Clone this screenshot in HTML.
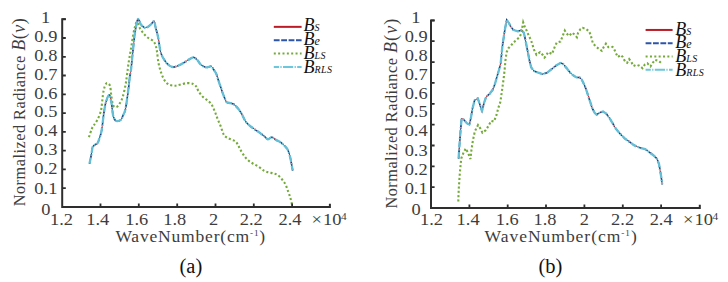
<!DOCTYPE html>
<html><head><meta charset="utf-8"><title>Figure</title>
<style>
html,body{margin:0;padding:0;background:#fff;}
body{width:728px;height:282px;overflow:hidden;}
svg{display:block;}
text{font-family:"Liberation Serif",serif;}
.tk text, text.tk{font-size:17.2px;fill:#3d3d3d;}
.tk .ex{font-size:17.3px;}
.tk .xl{font-size:16.4px;letter-spacing:0.75px;}
.tk .xr{letter-spacing:0.9px;}
.tk .yl{font-size:16.3px;letter-spacing:0.5px;}
.tk .bv{font-size:18px;letter-spacing:0.5px;}
.tk .yr{letter-spacing:0.5px;}
.tk .yr .bv{letter-spacing:1.1px;}
.lg{font-size:18px;font-style:italic;fill:#111;}
.cap{font-size:20.5px;fill:#111;}
</style></head>
<body>
<svg width="728" height="282" viewBox="0 0 728 282">
<rect width="728" height="282" fill="#fff"/>
<path d="M89.5,163.8 C89.9,161.9 91.2,155.4 91.7,152.6 C92.2,149.8 92.1,148.5 92.6,147.2 C93.1,145.9 94.1,145.5 94.9,144.8 C95.8,144.1 96.9,144.4 97.7,143.0 C98.5,141.6 99.3,138.7 100.0,136.5 C100.7,134.3 101.0,133.9 101.7,130.0 C102.4,126.1 103.2,117.7 103.9,113.0 C104.6,108.3 105.1,105.0 106.0,102.0 C106.9,99.0 108.4,94.8 109.3,95.0 C110.2,95.2 110.9,99.7 111.5,103.0 C112.1,106.3 112.4,112.2 113.0,115.0 C113.6,117.8 114.3,119.0 115.0,120.0 C115.7,121.0 116.3,121.2 117.3,121.2 C118.3,121.2 120.0,120.8 120.9,119.8 C121.9,118.8 122.2,117.3 123.0,115.5 C123.8,113.7 124.6,113.2 125.5,109.0 C126.4,104.8 127.6,95.3 128.3,90.0 C129.0,84.7 129.3,80.7 129.8,77.0 C130.3,73.3 130.7,72.2 131.2,68.0 C131.7,63.8 132.2,57.8 132.8,52.0 C133.4,46.2 134.1,38.8 134.9,33.3 C135.7,27.8 136.9,20.9 137.8,19.3 C138.8,17.8 139.7,22.7 140.6,24.0 C141.5,25.3 142.6,26.4 143.5,27.0 C144.4,27.6 145.1,28.0 146.3,27.6 C147.5,27.2 149.2,25.9 150.5,24.8 C151.8,23.7 153.3,20.9 154.1,21.2 C154.9,21.5 154.8,24.1 155.5,26.9 C156.2,29.7 157.5,34.2 158.3,38.2 C159.1,42.2 159.5,47.4 160.3,50.6 C161.1,53.9 161.8,55.5 163.0,57.7 C164.2,59.9 165.8,62.4 167.4,63.9 C169.0,65.5 170.9,66.7 172.7,67.0 C174.5,67.3 176.2,66.4 178.0,65.7 C179.8,65.0 181.5,64.1 183.4,63.0 C185.3,61.9 187.8,60.0 189.6,59.1 C191.4,58.2 192.7,57.2 194.0,57.4 C195.3,57.6 196.4,59.2 197.6,60.4 C198.8,61.6 199.6,63.6 201.1,64.8 C202.6,66.0 204.8,67.2 206.5,67.4 C208.2,67.7 209.8,66.0 211.0,66.3 C212.2,66.6 212.7,68.2 213.6,69.5 C214.5,70.8 215.4,71.8 216.3,73.9 C217.2,76.0 218.0,79.2 218.9,81.9 C219.8,84.6 220.8,87.5 221.6,89.9 C222.4,92.3 223.1,94.2 223.9,96.2 C224.7,98.2 225.7,101.0 226.6,102.1 C227.5,103.2 228.1,102.4 229.3,102.8 C230.5,103.2 232.2,103.2 233.7,104.2 C235.2,105.2 236.8,107.0 238.1,108.6 C239.4,110.2 240.5,111.8 241.7,113.9 C242.9,116.0 244.0,119.0 245.3,121.0 C246.6,123.0 248.0,124.2 249.6,125.6 C251.2,127.0 253.1,128.2 254.9,129.5 C256.7,130.8 258.6,132.0 260.2,133.1 C261.8,134.2 263.2,135.3 264.5,136.3 C265.8,137.3 266.5,139.1 267.7,139.3 C268.9,139.5 270.5,137.2 271.9,137.3 C273.3,137.4 274.8,139.3 276.2,140.1 C277.6,140.9 279.0,141.2 280.4,142.2 C281.8,143.2 283.4,144.6 284.7,145.9 C285.9,147.2 287.0,148.3 287.9,150.1 C288.8,151.9 289.4,154.2 290.0,156.5 C290.6,158.8 291.1,161.6 291.5,163.9 C291.9,166.2 292.5,169.4 292.7,170.5" stroke="#bc1a24" stroke-width="1.0" fill="none"/>
<path d="M89.5,163.8 C89.9,161.9 91.2,155.4 91.7,152.6 C92.2,149.8 92.1,148.5 92.6,147.2 C93.1,145.9 94.1,145.5 94.9,144.8 C95.8,144.1 96.9,144.4 97.7,143.0 C98.5,141.6 99.3,138.7 100.0,136.5 C100.7,134.3 101.0,133.9 101.7,130.0 C102.4,126.1 103.2,117.7 103.9,113.0 C104.6,108.3 105.1,105.0 106.0,102.0 C106.9,99.0 108.4,94.8 109.3,95.0 C110.2,95.2 110.9,99.7 111.5,103.0 C112.1,106.3 112.4,112.2 113.0,115.0 C113.6,117.8 114.3,119.0 115.0,120.0 C115.7,121.0 116.3,121.2 117.3,121.2 C118.3,121.2 120.0,120.8 120.9,119.8 C121.9,118.8 122.2,117.3 123.0,115.5 C123.8,113.7 124.6,113.2 125.5,109.0 C126.4,104.8 127.6,95.3 128.3,90.0 C129.0,84.7 129.3,80.7 129.8,77.0 C130.3,73.3 130.7,72.2 131.2,68.0 C131.7,63.8 132.2,57.8 132.8,52.0 C133.4,46.2 134.1,38.8 134.9,33.3 C135.7,27.8 136.9,20.9 137.8,19.3 C138.8,17.8 139.7,22.7 140.6,24.0 C141.5,25.3 142.6,26.4 143.5,27.0 C144.4,27.6 145.1,28.0 146.3,27.6 C147.5,27.2 149.2,25.9 150.5,24.8 C151.8,23.7 153.3,20.9 154.1,21.2 C154.9,21.5 154.8,24.1 155.5,26.9 C156.2,29.7 157.5,34.2 158.3,38.2 C159.1,42.2 159.5,47.4 160.3,50.6 C161.1,53.9 161.8,55.5 163.0,57.7 C164.2,59.9 165.8,62.4 167.4,63.9 C169.0,65.5 170.9,66.7 172.7,67.0 C174.5,67.3 176.2,66.4 178.0,65.7 C179.8,65.0 181.5,64.1 183.4,63.0 C185.3,61.9 187.8,60.0 189.6,59.1 C191.4,58.2 192.7,57.2 194.0,57.4 C195.3,57.6 196.4,59.2 197.6,60.4 C198.8,61.6 199.6,63.6 201.1,64.8 C202.6,66.0 204.8,67.2 206.5,67.4 C208.2,67.7 209.8,66.0 211.0,66.3 C212.2,66.6 212.7,68.2 213.6,69.5 C214.5,70.8 215.4,71.8 216.3,73.9 C217.2,76.0 218.0,79.2 218.9,81.9 C219.8,84.6 220.8,87.5 221.6,89.9 C222.4,92.3 223.1,94.2 223.9,96.2 C224.7,98.2 225.7,101.0 226.6,102.1 C227.5,103.2 228.1,102.4 229.3,102.8 C230.5,103.2 232.2,103.2 233.7,104.2 C235.2,105.2 236.8,107.0 238.1,108.6 C239.4,110.2 240.5,111.8 241.7,113.9 C242.9,116.0 244.0,119.0 245.3,121.0 C246.6,123.0 248.0,124.2 249.6,125.6 C251.2,127.0 253.1,128.2 254.9,129.5 C256.7,130.8 258.6,132.0 260.2,133.1 C261.8,134.2 263.2,135.3 264.5,136.3 C265.8,137.3 266.5,139.1 267.7,139.3 C268.9,139.5 270.5,137.2 271.9,137.3 C273.3,137.4 274.8,139.3 276.2,140.1 C277.6,140.9 279.0,141.2 280.4,142.2 C281.8,143.2 283.4,144.6 284.7,145.9 C285.9,147.2 287.0,148.3 287.9,150.1 C288.8,151.9 289.4,154.2 290.0,156.5 C290.6,158.8 291.1,161.6 291.5,163.9 C291.9,166.2 292.5,169.4 292.7,170.5" stroke="#1d3d7a" stroke-width="1.5" fill="none" stroke-dasharray="4 2"/>
<path d="M88.9,137.2 C89.4,135.8 90.9,131.1 91.7,129.1 C92.5,127.1 92.9,126.7 93.8,125.3 C94.7,123.9 95.9,122.6 97.0,120.6 C98.1,118.6 99.5,115.4 100.2,113.2 C101.0,111.0 101.0,111.2 101.5,107.5 C102.0,103.8 102.7,95.3 103.5,91.3 C104.3,87.3 105.2,84.5 106.3,83.5 C107.4,82.5 109.1,83.6 109.9,85.6 C110.7,87.6 110.8,92.2 111.3,95.5 C111.8,98.8 112.3,103.6 113.2,105.5 C114.1,107.4 115.4,107.4 116.5,107.0 C117.6,106.6 118.8,105.0 119.8,103.3 C120.8,101.6 121.8,100.0 122.7,97.0 C123.7,94.0 124.8,88.5 125.5,85.0 C126.2,81.5 126.4,79.0 126.9,75.7 C127.4,72.4 127.7,69.2 128.3,65.0 C128.9,60.8 129.8,55.6 130.7,50.3 C131.6,45.0 132.7,37.5 133.5,33.3 C134.3,29.0 135.0,26.7 135.6,24.8 C136.2,22.9 136.3,21.3 137.0,21.9 C137.7,22.5 138.8,26.4 139.9,28.3 C141.0,30.2 142.1,31.8 143.4,33.3 C144.7,34.8 146.0,36.2 147.7,37.5 C149.4,38.8 152.1,39.8 153.4,41.1 C154.7,42.4 154.9,43.6 155.5,45.3 C156.1,46.9 156.4,48.0 156.9,51.0 C157.4,54.0 157.8,59.4 158.5,63.0 C159.2,66.6 160.1,69.8 161.2,72.8 C162.2,75.8 163.5,78.8 164.8,80.8 C166.1,82.8 167.6,83.9 169.2,84.7 C170.8,85.5 172.7,85.7 174.5,85.7 C176.3,85.7 177.7,85.1 179.8,84.7 C181.9,84.3 184.7,83.2 186.9,83.1 C189.1,83.0 191.5,83.3 193.1,84.0 C194.7,84.7 195.8,85.8 196.7,87.0 C197.6,88.2 197.4,89.5 198.5,91.2 C199.6,92.9 201.3,95.3 203.0,97.0 C204.7,98.7 207.3,100.0 208.9,101.5 C210.5,103.0 211.4,104.2 212.4,106.0 C213.4,107.8 214.2,110.0 215.1,112.2 C216.0,114.4 216.8,117.1 217.7,119.3 C218.6,121.5 219.6,123.5 220.4,125.5 C221.2,127.5 221.8,129.8 222.5,131.5 C223.2,133.2 223.4,134.5 224.3,135.6 C225.2,136.7 226.5,137.3 227.7,138.0 C228.9,138.7 230.4,139.1 231.7,139.7 C233.0,140.3 234.6,140.6 235.7,141.5 C236.8,142.4 237.4,144.0 238.1,145.2 C238.8,146.4 239.2,147.4 240.0,148.9 C240.8,150.4 242.0,152.6 243.2,154.4 C244.4,156.2 245.8,158.2 247.4,159.7 C249.0,161.2 250.9,162.3 252.8,163.5 C254.8,164.7 257.2,165.8 259.1,167.1 C261.0,168.3 262.8,170.1 264.4,171.0 C266.0,171.9 267.3,172.0 268.8,172.4 C270.3,172.8 271.8,172.9 273.3,173.3 C274.8,173.7 276.2,174.0 277.7,175.0 C279.2,176.0 280.8,177.9 282.1,179.5 C283.4,181.1 284.7,182.7 285.7,184.8 C286.7,186.9 287.5,189.7 288.3,191.9 C289.1,194.1 289.8,195.9 290.4,198.0 C291.0,200.1 291.6,202.7 291.9,204.2 C292.2,205.7 292.2,206.5 292.3,207.0" stroke="#74aa3a" stroke-width="2.1" fill="none" stroke-dasharray="2.1 2.2"/>
<path d="M89.5,163.8 C89.9,161.9 91.2,155.4 91.7,152.6 C92.2,149.8 92.1,148.5 92.6,147.2 C93.1,145.9 94.1,145.5 94.9,144.8 C95.8,144.1 96.9,144.4 97.7,143.0 C98.5,141.6 99.3,138.7 100.0,136.5 C100.7,134.3 101.0,133.9 101.7,130.0 C102.4,126.1 103.2,117.7 103.9,113.0 C104.6,108.3 105.1,105.0 106.0,102.0 C106.9,99.0 108.4,94.8 109.3,95.0 C110.2,95.2 110.9,99.7 111.5,103.0 C112.1,106.3 112.4,112.2 113.0,115.0 C113.6,117.8 114.3,119.0 115.0,120.0 C115.7,121.0 116.3,121.2 117.3,121.2 C118.3,121.2 120.0,120.8 120.9,119.8 C121.9,118.8 122.2,117.3 123.0,115.5 C123.8,113.7 124.6,113.2 125.5,109.0 C126.4,104.8 127.6,95.3 128.3,90.0 C129.0,84.7 129.3,80.7 129.8,77.0 C130.3,73.3 130.7,72.2 131.2,68.0 C131.7,63.8 132.2,57.8 132.8,52.0 C133.4,46.2 134.1,38.8 134.9,33.3 C135.7,27.8 136.9,20.9 137.8,19.3 C138.8,17.8 139.7,22.7 140.6,24.0 C141.5,25.3 142.6,26.4 143.5,27.0 C144.4,27.6 145.1,28.0 146.3,27.6 C147.5,27.2 149.2,25.9 150.5,24.8 C151.8,23.7 153.3,20.9 154.1,21.2 C154.9,21.5 154.8,24.1 155.5,26.9 C156.2,29.7 157.5,34.2 158.3,38.2 C159.1,42.2 159.5,47.4 160.3,50.6 C161.1,53.9 161.8,55.5 163.0,57.7 C164.2,59.9 165.8,62.4 167.4,63.9 C169.0,65.5 170.9,66.7 172.7,67.0 C174.5,67.3 176.2,66.4 178.0,65.7 C179.8,65.0 181.5,64.1 183.4,63.0 C185.3,61.9 187.8,60.0 189.6,59.1 C191.4,58.2 192.7,57.2 194.0,57.4 C195.3,57.6 196.4,59.2 197.6,60.4 C198.8,61.6 199.6,63.6 201.1,64.8 C202.6,66.0 204.8,67.2 206.5,67.4 C208.2,67.7 209.8,66.0 211.0,66.3 C212.2,66.6 212.7,68.2 213.6,69.5 C214.5,70.8 215.4,71.8 216.3,73.9 C217.2,76.0 218.0,79.2 218.9,81.9 C219.8,84.6 220.8,87.5 221.6,89.9 C222.4,92.3 223.1,94.2 223.9,96.2 C224.7,98.2 225.7,101.0 226.6,102.1 C227.5,103.2 228.1,102.4 229.3,102.8 C230.5,103.2 232.2,103.2 233.7,104.2 C235.2,105.2 236.8,107.0 238.1,108.6 C239.4,110.2 240.5,111.8 241.7,113.9 C242.9,116.0 244.0,119.0 245.3,121.0 C246.6,123.0 248.0,124.2 249.6,125.6 C251.2,127.0 253.1,128.2 254.9,129.5 C256.7,130.8 258.6,132.0 260.2,133.1 C261.8,134.2 263.2,135.3 264.5,136.3 C265.8,137.3 266.5,139.1 267.7,139.3 C268.9,139.5 270.5,137.2 271.9,137.3 C273.3,137.4 274.8,139.3 276.2,140.1 C277.6,140.9 279.0,141.2 280.4,142.2 C281.8,143.2 283.4,144.6 284.7,145.9 C285.9,147.2 287.0,148.3 287.9,150.1 C288.8,151.9 289.4,154.2 290.0,156.5 C290.6,158.8 291.1,161.6 291.5,163.9 C291.9,166.2 292.5,169.4 292.7,170.5" stroke="#64bfd6" stroke-width="2.3" fill="none" stroke-dasharray="6.5 1.6 1.4 1.6" stroke-linejoin="round"/>
<path d="M458.6,158.6 L459.4,146.2 L460.5,131.3 L461.6,118.5 L463.7,119.6 L466.9,123.2 L469.4,124.5 L471.0,117.4 L472.4,108.9 L474.6,100.4 L477.8,98.3 L479.9,104.7 L482.0,111.1 L484.1,102.6 L486.3,96.6 L489.5,94.0 L492.7,89.8 L494.8,84.5 L496.9,77.0 L499.0,70.0 L500.7,63.2 L502.4,46.2 L504.6,31.3 L506.7,19.8 L508.8,22.8 L511.0,27.0 L513.5,30.0 L518.0,31.3 L521.5,30.0 L523.8,32.7 L525.0,38.0 L526.8,46.9 L528.6,56.0 L529.4,60.3 L531.2,67.4 L533.9,71.0 L538.3,72.7 L542.7,74.1 L547.2,72.7 L551.6,69.2 L556.0,65.6 L560.5,63.0 L563.1,63.9 L566.7,68.3 L570.2,72.7 L573.2,75.3 L576.4,77.4 L579.6,77.4 L581.7,79.6 L583.8,83.8 L586.0,89.1 L588.1,95.5 L590.2,101.9 L592.3,108.3 L594.5,112.6 L596.6,114.7 L599.8,112.6 L603.0,111.5 L606.2,113.6 L609.4,117.9 L612.6,123.2 L615.7,128.5 L619.9,133.6 L624.9,138.6 L629.3,141.7 L633.5,144.9 L637.8,147.0 L641.0,148.1 L645.2,149.1 L649.5,152.3 L653.7,155.5 L656.9,158.7 L659.0,164.0 L660.1,170.4 L661.2,176.8 L662.2,184.3" stroke="#bc1a24" stroke-width="1.0" fill="none"/>
<path d="M458.6,158.6 L459.4,146.2 L460.5,131.3 L461.6,118.5 L463.7,119.6 L466.9,123.2 L469.4,124.5 L471.0,117.4 L472.4,108.9 L474.6,100.4 L477.8,98.3 L479.9,104.7 L482.0,111.1 L484.1,102.6 L486.3,96.6 L489.5,94.0 L492.7,89.8 L494.8,84.5 L496.9,77.0 L499.0,70.0 L500.7,63.2 L502.4,46.2 L504.6,31.3 L506.7,19.8 L508.8,22.8 L511.0,27.0 L513.5,30.0 L518.0,31.3 L521.5,30.0 L523.8,32.7 L525.0,38.0 L526.8,46.9 L528.6,56.0 L529.4,60.3 L531.2,67.4 L533.9,71.0 L538.3,72.7 L542.7,74.1 L547.2,72.7 L551.6,69.2 L556.0,65.6 L560.5,63.0 L563.1,63.9 L566.7,68.3 L570.2,72.7 L573.2,75.3 L576.4,77.4 L579.6,77.4 L581.7,79.6 L583.8,83.8 L586.0,89.1 L588.1,95.5 L590.2,101.9 L592.3,108.3 L594.5,112.6 L596.6,114.7 L599.8,112.6 L603.0,111.5 L606.2,113.6 L609.4,117.9 L612.6,123.2 L615.7,128.5 L619.9,133.6 L624.9,138.6 L629.3,141.7 L633.5,144.9 L637.8,147.0 L641.0,148.1 L645.2,149.1 L649.5,152.3 L653.7,155.5 L656.9,158.7 L659.0,164.0 L660.1,170.4 L661.2,176.8 L662.2,184.3" stroke="#1d3d7a" stroke-width="1.5" fill="none" stroke-dasharray="4 2"/>
<path d="M458.3,201.5 L458.7,189.6 L459.9,172.3 L461.2,158.6 L463.6,152.4 L465.8,148.5 L467.6,152.0 L469.9,157.5 L470.5,159.0 L471.1,152.5 L472.5,143.0 L473.9,135.5 L475.0,131.0 L478.0,125.1 L480.3,128.3 L482.4,132.7 L485.9,130.1 L488.6,125.7 L491.2,120.9 L494.0,121.5 L496.5,115.0 L498.3,108.0 L500.4,101.8 L501.8,91.9 L503.6,79.0 L504.6,70.0 L505.5,60.0 L506.6,52.4 L508.3,48.4 L510.7,45.8 L513.8,42.2 L516.7,39.8 L519.2,37.4 L521.2,33.7 L522.1,28.5 L523.2,22.4 L525.0,27.4 L526.8,30.9 L528.6,35.4 L530.4,38.9 L532.1,43.3 L533.9,49.5 L536.5,54.8 L540.1,52.2 L542.7,54.9 L544.4,57.6 L546.2,55.8 L548.0,52.2 L550.0,53.0 L552.1,54.0 L553.3,50.5 L555.1,46.0 L556.8,42.5 L560.4,41.6 L562.2,37.2 L563.9,32.7 L564.8,30.6 L566.6,33.6 L569.3,35.9 L571.9,32.7 L574.6,34.5 L576.9,37.2 L578.1,32.7 L580.4,29.2 L582.6,27.8 L585.7,28.8 L588.8,31.0 L590.7,34.8 L591.7,39.3 L593.0,43.3 L595.6,46.3 L598.8,48.7 L601.8,50.8 L603.6,47.2 L605.9,43.7 L608.4,47.2 L612.5,46.9 L614.3,49.4 L616.0,53.4 L617.8,57.0 L620.7,55.0 L622.8,57.1 L624.2,59.9 L625.7,62.0 L627.1,62.8 L629.2,59.2 L631.3,62.0 L633.5,66.0 L636.3,64.7 L639.4,65.8 L642.5,68.2 L644.8,64.6 L647.4,63.3 L650.5,66.4 L652.7,62.9 L655.0,59.8 L659.0,61.1 L662.1,63.8" stroke="#74aa3a" stroke-width="2.1" fill="none" stroke-dasharray="2.1 2.2"/>
<path d="M458.6,158.6 L459.4,146.2 L460.5,131.3 L461.6,118.5 L463.7,119.6 L466.9,123.2 L469.4,124.5 L471.0,117.4 L472.4,108.9 L474.6,100.4 L477.8,98.3 L479.9,104.7 L482.0,111.1 L484.1,102.6 L486.3,96.6 L489.5,94.0 L492.7,89.8 L494.8,84.5 L496.9,77.0 L499.0,70.0 L500.7,63.2 L502.4,46.2 L504.6,31.3 L506.7,19.8 L508.8,22.8 L511.0,27.0 L513.5,30.0 L518.0,31.3 L521.5,30.0 L523.8,32.7 L525.0,38.0 L526.8,46.9 L528.6,56.0 L529.4,60.3 L531.2,67.4 L533.9,71.0 L538.3,72.7 L542.7,74.1 L547.2,72.7 L551.6,69.2 L556.0,65.6 L560.5,63.0 L563.1,63.9 L566.7,68.3 L570.2,72.7 L573.2,75.3 L576.4,77.4 L579.6,77.4 L581.7,79.6 L583.8,83.8 L586.0,89.1 L588.1,95.5 L590.2,101.9 L592.3,108.3 L594.5,112.6 L596.6,114.7 L599.8,112.6 L603.0,111.5 L606.2,113.6 L609.4,117.9 L612.6,123.2 L615.7,128.5 L619.9,133.6 L624.9,138.6 L629.3,141.7 L633.5,144.9 L637.8,147.0 L641.0,148.1 L645.2,149.1 L649.5,152.3 L653.7,155.5 L656.9,158.7 L659.0,164.0 L660.1,170.4 L661.2,176.8 L662.2,184.3" stroke="#64bfd6" stroke-width="2.3" fill="none" stroke-dasharray="6.5 1.6 1.4 1.6" stroke-linejoin="round"/>
<path d="M65.8,19.2 H62.2 V207.0 H329.9 V203.8" stroke="#2e2e2e" stroke-width="2" fill="none" stroke-linecap="butt"/>
<path d="M62.2,19.2 H65.8 M62.2,38.0 H65.8 M62.2,56.8 H65.8 M62.2,75.5 H65.8 M62.2,94.3 H65.8 M62.2,113.1 H65.8 M62.2,131.9 H65.8 M62.2,150.7 H65.8 M62.2,169.4 H65.8 M62.2,188.2 H65.8 M100.5,207.0 V203.4 M138.8,207.0 V203.4 M177.2,207.0 V203.4 M215.5,207.0 V203.4 M253.8,207.0 V203.4 M292.1,207.0 V203.4" stroke="#2e2e2e" stroke-width="1.8" fill="none"/>
<path d="M434.6,20.4 H431.0 V208.0 H699.8 V204.8" stroke="#2e2e2e" stroke-width="2" fill="none" stroke-linecap="butt"/>
<path d="M431.0,20.4 H434.6 M431.0,41.2 H434.6 M431.0,62.1 H434.6 M431.0,82.9 H434.6 M431.0,103.8 H434.6 M431.0,124.6 H434.6 M431.0,145.5 H434.6 M431.0,166.3 H434.6 M431.0,187.2 H434.6 M469.4,208.0 V204.4 M507.7,208.0 V204.4 M546.0,208.0 V204.4 M584.4,208.0 V204.4 M622.8,208.0 V204.4 M661.1,208.0 V204.4" stroke="#2e2e2e" stroke-width="1.8" fill="none"/>
<g class="tk">
<text transform="translate(45.60,23) scale(1.07,1)" text-anchor="middle">1</text>
<text transform="translate(45.85,42) scale(1.07,1)" text-anchor="middle">0.9</text>
<text transform="translate(45.85,61) scale(1.07,1)" text-anchor="middle">0.8</text>
<text transform="translate(45.85,80) scale(1.07,1)" text-anchor="middle">0.7</text>
<text transform="translate(45.85,99) scale(1.07,1)" text-anchor="middle">0.6</text>
<text transform="translate(45.85,117) scale(1.07,1)" text-anchor="middle">0.5</text>
<text transform="translate(45.85,136) scale(1.07,1)" text-anchor="middle">0.4</text>
<text transform="translate(45.85,155) scale(1.07,1)" text-anchor="middle">0.3</text>
<text transform="translate(45.85,174) scale(1.07,1)" text-anchor="middle">0.2</text>
<text transform="translate(45.85,194) scale(1.07,1)" text-anchor="middle">0.1</text>
<text transform="translate(45.87,215) scale(1.07,1)" text-anchor="middle">0</text>
<text transform="translate(415.90,23) scale(1.07,1)" text-anchor="middle">1</text>
<text transform="translate(416.15,42) scale(1.07,1)" text-anchor="middle">0.9</text>
<text transform="translate(416.15,61) scale(1.07,1)" text-anchor="middle">0.8</text>
<text transform="translate(416.15,80) scale(1.07,1)" text-anchor="middle">0.7</text>
<text transform="translate(416.15,99) scale(1.07,1)" text-anchor="middle">0.6</text>
<text transform="translate(416.15,117) scale(1.07,1)" text-anchor="middle">0.5</text>
<text transform="translate(416.15,136) scale(1.07,1)" text-anchor="middle">0.4</text>
<text transform="translate(416.15,156) scale(1.07,1)" text-anchor="middle">0.3</text>
<text transform="translate(416.15,175) scale(1.07,1)" text-anchor="middle">0.2</text>
<text transform="translate(416.15,194) scale(1.07,1)" text-anchor="middle">0.1</text>
<text transform="translate(416.17,215) scale(1.07,1)" text-anchor="middle">0</text>
<text transform="translate(61.46,224.8) scale(1.07,1)" text-anchor="middle">1.2</text>
<text transform="translate(97.68,224.8) scale(1.07,1)" text-anchor="middle">1.4</text>
<text transform="translate(136.71,224.8) scale(1.07,1)" text-anchor="middle">1.6</text>
<text transform="translate(174.74,224.8) scale(1.07,1)" text-anchor="middle">1.8</text>
<text transform="translate(213.70,224.8) scale(1.07,1)" text-anchor="middle">2</text>
<text transform="translate(251.29,224.8) scale(1.07,1)" text-anchor="middle">2.2</text>
<text transform="translate(290.05,224.8) scale(1.07,1)" text-anchor="middle">2.4</text>
<text transform="translate(431.56,224.8) scale(1.07,1)" text-anchor="middle">1.2</text>
<text transform="translate(468.08,224.8) scale(1.07,1)" text-anchor="middle">1.4</text>
<text transform="translate(507.21,224.8) scale(1.07,1)" text-anchor="middle">1.6</text>
<text transform="translate(544.99,224.8) scale(1.07,1)" text-anchor="middle">1.8</text>
<text transform="translate(584.30,224.8) scale(1.07,1)" text-anchor="middle">2</text>
<text transform="translate(622.59,224.8) scale(1.07,1)" text-anchor="middle">2.2</text>
<text transform="translate(661.15,224.8) scale(1.07,1)" text-anchor="middle">2.4</text>
<text transform="translate(311.4,225) scale(1.07,1)" class="ex">&#215;<tspan dx="1">10</tspan><tspan font-size="10.6" dy="-5.4" dx="-0.3">4</tspan></text>
<text transform="translate(682.9,225) scale(1.07,1)" class="ex">&#215;<tspan dx="1">10</tspan><tspan font-size="10.6" dy="-5.4" dx="-0.3">4</tspan></text>
<text transform="translate(115.4,242.4) scale(1.07,1)" class="xl">WaveNumber(cm<tspan font-size="8.6" dy="-6.1">-1</tspan><tspan dy="6.1">)</tspan></text>
<text transform="translate(484.6,242.4) scale(1.07,1)" class="xl xr">WaveNumber(cm<tspan font-size="8.6" dy="-6.1">-1</tspan><tspan dy="6.1">)</tspan></text>
<text transform="translate(25.4,206.3) rotate(-90)" class="yl">Normalized Radiance <tspan class="bv"><tspan font-style="italic">B</tspan>(<tspan font-style="italic">v</tspan>)</tspan></text>
<text transform="translate(396.8,208.6) rotate(-90)" class="yl yr">Normalized Radiance <tspan class="bv"><tspan font-style="italic">B</tspan>(<tspan font-style="italic">v</tspan>)</tspan></text>
</g>
<path d="M273.8,26.85 H301.6" stroke="#bc1a24" stroke-width="2" fill="none"/>
<path d="M273.8,40.22 H301.6" stroke="#2c54a8" stroke-width="2" fill="none" stroke-dasharray="5.8 1.6" stroke-dashoffset="0.0"/>
<path d="M273.8,53.59 H301.6" stroke="#74aa3a" stroke-width="2" fill="none" stroke-dasharray="2 2.35"/>
<path d="M273.8,66.96 H301.6" stroke="#6cc6dc" stroke-width="2" fill="none" stroke-dasharray="10.2 1.4 1.2 1.4" stroke-dashoffset="5.0"/>
<text x="303.6" y="31.00" class="lg">B<tspan font-size="10" letter-spacing="0.4">S</tspan></text>
<text x="303.6" y="45.00" class="lg">B<tspan font-size="12" letter-spacing="0.4">e</tspan></text>
<text x="303.6" y="59.00" class="lg">B<tspan font-size="10" letter-spacing="0.4">LS</tspan></text>
<text x="303.6" y="73.00" class="lg">B<tspan font-size="10" letter-spacing="0.4">RLS</tspan></text>
<path d="M645.6,29.95 H672.6" stroke="#bc1a24" stroke-width="2" fill="none"/>
<path d="M645.6,43.25 H672.6" stroke="#2c54a8" stroke-width="2" fill="none" stroke-dasharray="5.8 1.6" stroke-dashoffset="0.0"/>
<path d="M645.6,56.55 H672.6" stroke="#74aa3a" stroke-width="2" fill="none" stroke-dasharray="2 2.35"/>
<path d="M645.6,69.85 H672.6" stroke="#6cc6dc" stroke-width="2" fill="none" stroke-dasharray="10.2 1.4 1.2 1.4" stroke-dashoffset="5.0"/>
<text x="675.3" y="35.00" class="lg">B<tspan font-size="10" letter-spacing="0.4">S</tspan></text>
<text x="675.3" y="48.00" class="lg">B<tspan font-size="12" letter-spacing="0.4">e</tspan></text>
<text x="675.3" y="62.00" class="lg">B<tspan font-size="10" letter-spacing="0.4">LS</tspan></text>
<text x="675.3" y="76.00" class="lg">B<tspan font-size="10" letter-spacing="0.4">RLS</tspan></text>
<text x="190.9" y="273" class="cap" text-anchor="middle">(a)</text>
<text x="550.4" y="273" class="cap" text-anchor="middle">(b)</text>
</svg>
</body></html>
